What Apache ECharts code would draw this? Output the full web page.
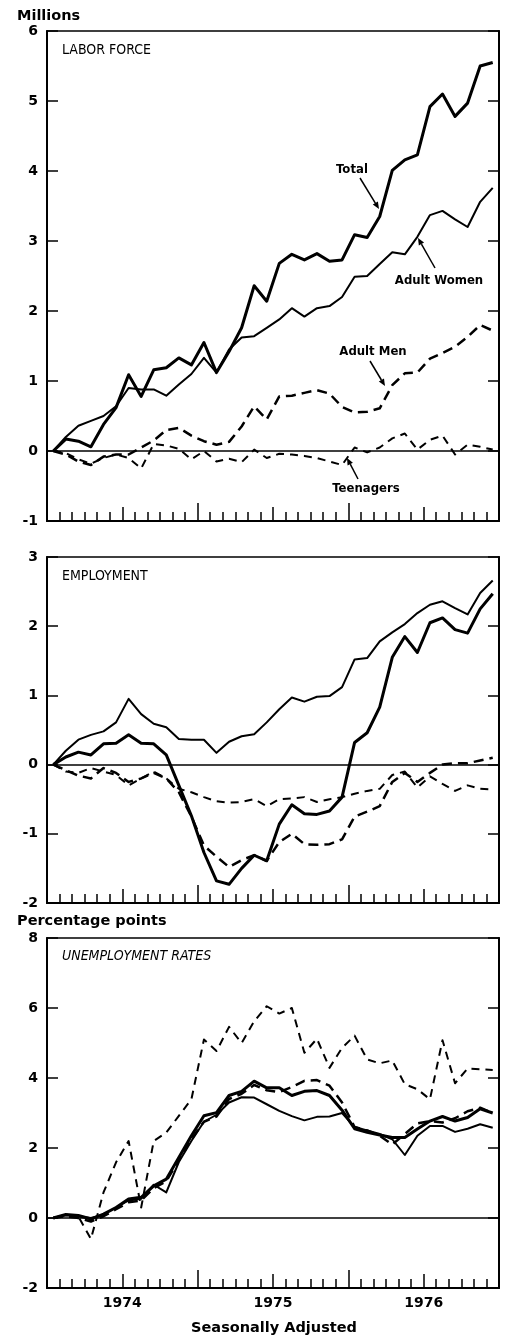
<!DOCTYPE html>
<html>
<head>
<meta charset="utf-8">
<script src="https://cdn.jsdelivr.net/npm/echarts@6/dist/echarts.min.js"></script>
<style>
html,body{margin:0;padding:0;background:#fff}
#main{width:516px;height:1338px}
</style>
</head>
<body>
<div id="main"></div>
<script>
// months on the x axis (Jan 1974 - Dec 1976)
var months = ['1974-01','1974-02','1974-03','1974-04','1974-05','1974-06','1974-07','1974-08','1974-09','1974-10','1974-11','1974-12',
              '1975-01','1975-02','1975-03','1975-04','1975-05','1975-06','1975-07','1975-08','1975-09','1975-10','1975-11','1975-12',
              '1976-01','1976-02','1976-03','1976-04','1976-05','1976-06','1976-07','1976-08','1976-09','1976-10','1976-11','1976-12'];
var years = ['1974','1975','1976'];

// labor force, change in millions
var lfTotal = [0,0.17,0.14,0.06,0.38,0.62,1.09,0.78,1.16,1.19,1.33,1.23,1.55,1.12,1.42,1.76,2.36,2.14,2.68,2.81,2.73,2.82,2.71,2.73,3.09,3.05,3.35,4.01,4.16,4.23,4.92,5.10,4.78,4.97,5.50,5.55];
var lfWomen = [0,0.2,0.36,0.43,0.5,0.64,0.9,0.88,0.88,0.79,0.95,1.1,1.33,1.12,1.45,1.62,1.64,1.76,1.88,2.04,1.92,2.04,2.07,2.2,2.49,2.5,2.67,2.84,2.81,3.06,3.37,3.43,3.31,3.2,3.56,3.76];
var lfMen   = [0,-0.05,-0.15,-0.2,-0.08,-0.05,-0.05,0.05,0.15,0.3,0.33,0.22,0.14,0.09,0.13,0.35,0.64,0.45,0.78,0.79,0.83,0.87,0.82,0.63,0.55,0.56,0.61,0.94,1.11,1.12,1.32,1.40,1.49,1.63,1.80,1.72];
var lfTeens = [0,-0.03,-0.12,-0.18,-0.1,-0.05,-0.1,-0.25,0.1,0.08,0.03,-0.12,0,-0.15,-0.11,-0.16,0.02,-0.1,-0.04,-0.05,-0.07,-0.1,-0.15,-0.2,0.05,-0.02,0.05,0.18,0.25,0.02,0.16,0.22,-0.05,0.09,0.06,0.02];

// employment, change in millions
var empTotal = [0,0.11,0.18,0.14,0.3,0.31,0.43,0.31,0.3,0.14,-0.3,-0.74,-1.27,-1.68,-1.73,-1.5,-1.31,-1.39,-0.86,-0.58,-0.71,-0.72,-0.67,-0.47,0.32,0.46,0.83,1.55,1.85,1.62,2.05,2.12,1.95,1.90,2.25,2.47];
var empWomen = [0,0.2,0.36,0.43,0.48,0.61,0.95,0.73,0.59,0.54,0.37,0.36,0.36,0.17,0.33,0.41,0.44,0.61,0.8,0.97,0.91,0.98,0.99,1.12,1.52,1.54,1.78,1.91,2.03,2.19,2.31,2.36,2.26,2.17,2.48,2.66];
var empMen   = [0,-0.08,-0.16,-0.2,-0.05,-0.12,-0.25,-0.2,-0.12,-0.2,-0.4,-0.75,-1.17,-1.33,-1.48,-1.38,-1.31,-1.39,-1.12,-1.0,-1.15,-1.16,-1.15,-1.08,-0.75,-0.68,-0.6,-0.25,-0.12,-0.25,-0.12,0.0,0.02,0.02,0.06,0.1];
var empTeens = [0,-0.1,-0.12,-0.05,-0.1,-0.15,-0.3,-0.2,-0.1,-0.2,-0.35,-0.4,-0.47,-0.53,-0.55,-0.54,-0.5,-0.6,-0.5,-0.49,-0.47,-0.54,-0.5,-0.47,-0.42,-0.38,-0.35,-0.15,-0.1,-0.33,-0.17,-0.28,-0.38,-0.3,-0.35,-0.36];

// unemployment rates, change in percentage points
var urTotal = [0,0.1,0.07,-0.03,0.11,0.3,0.54,0.59,0.92,1.11,1.73,2.35,2.92,3.01,3.5,3.62,3.91,3.72,3.72,3.5,3.62,3.64,3.5,3.08,2.55,2.45,2.37,2.3,2.3,2.54,2.77,2.9,2.77,2.87,3.12,3.0];
var urWomen = [0,0.08,0.05,0,0.1,0.3,0.5,0.55,0.95,0.73,1.6,2.2,2.75,2.95,3.3,3.45,3.44,3.25,3.06,2.91,2.79,2.89,2.9,3.0,2.6,2.5,2.4,2.25,1.8,2.35,2.63,2.63,2.46,2.55,2.68,2.58];
var urMen   = [0,0.05,0,-0.1,0.05,0.25,0.45,0.5,0.85,1.05,1.65,2.25,2.75,2.9,3.4,3.55,3.8,3.65,3.6,3.74,3.92,3.94,3.78,3.3,2.6,2.5,2.35,2.1,2.4,2.7,2.77,2.73,2.85,3.05,3.15,3.0];
var urTeens = [0,0.1,0.04,-0.6,0.73,1.59,2.2,0.3,2.2,2.44,2.92,3.39,5.1,4.77,5.46,5.0,5.62,6.05,5.84,6.0,4.72,5.12,4.29,4.86,5.21,4.53,4.42,4.5,3.82,3.68,3.39,5.08,3.85,4.27,4.25,4.23];

var numFont = '"DejaVu Sans", sans-serif';
var condFont = '"DejaVu Sans Condensed", "Liberation Sans Narrow", "DejaVu Sans", sans-serif';

// grids: [top, height, ymin, ymax, yinterval]
var panels = [
  [31, 490, -1, 6, 1],
  [557, 346, -2, 3, 1],
  [938, 350, -2, 8, 2]
];

function pts(arr) {
  return months.map(function (m, i) { return [i + 0.5, arr[i]]; });
}

var grids = [], xAxes = [], yAxes = [];
panels.forEach(function (p, gi) {
  grids.push({left: 47, width: 452, top: p[0], height: p[1], show: true, borderColor: '#000', borderWidth: 1.5, outerBoundsMode: 'none'});
  // minor / mid-year / year ticks
  [[1, 9], [6, 14], [12, 18]].forEach(function (t, k) {
    xAxes.push({
      type: 'value', gridIndex: gi, min: 0, max: 36, interval: t[0], position: 'bottom',
      axisLine: {show: k == 0, onZero: false, lineStyle: {color: '#000', width: 2}},
      axisTick: {show: true, inside: true, length: t[1], lineStyle: {color: '#000', width: 1.5}},
      splitLine: {show: false},
      axisLabel: {
        show: gi == 2 && k == 1, margin: 8, color: '#000', fontSize: 14, fontWeight: 'bold', fontFamily: numFont,
        formatter: function (v) { return v % 12 == 6 ? years[(v - 6) / 12] : ''; }
      }
    });
  });
  yAxes.push({
    type: 'value', gridIndex: gi, min: p[2], max: p[3], interval: p[4], position: 'left',
    axisLine: {show: true, onZero: false, lineStyle: {color: '#000', width: 2}},
    axisTick: {show: true, inside: true, length: 11, lineStyle: {color: '#000', width: 1.5}},
    splitLine: {show: false},
    axisLabel: {color: '#000', fontSize: 14, fontWeight: 'bold', fontFamily: numFont, margin: 9}
  });
  yAxes.push({
    type: 'value', gridIndex: gi, min: p[2], max: p[3], interval: p[4], position: 'right',
    axisLine: {show: true, onZero: false, lineStyle: {color: '#000', width: 2}},
    axisTick: {show: true, inside: true, length: 11, lineStyle: {color: '#000', width: 1.5}},
    splitLine: {show: false},
    axisLabel: {show: false}
  });
});

var styles = {
  total: {width: 3, type: 'solid'},
  women: {width: 2, type: 'solid'},
  men: {width: 2.5, type: [10, 6]},
  teens: {width: 2, type: [8, 6]}
};

function line(gi, arr, st, zero) {
  var s = {
    type: 'line', xAxisIndex: gi * 3, yAxisIndex: gi * 2, data: pts(arr),
    showSymbol: false, silent: true, z: 3,
    lineStyle: {color: '#000', width: st.width, type: st.type, cap: 'butt', join: 'round'}
  };
  if (zero) {
    s.markLine = {silent: true, symbol: 'none', label: {show: false},
      lineStyle: {color: '#000', width: 1.5, type: 'solid'}, data: [{yAxis: 0}]};
  }
  return s;
}

var series = [
  line(0, lfTotal, styles.total, true), line(0, lfWomen, styles.women), line(0, lfMen, styles.men), line(0, lfTeens, styles.teens),
  line(1, empTotal, styles.total, true), line(1, empWomen, styles.women), line(1, empMen, styles.men), line(1, empTeens, styles.teens),
  line(2, urTotal, styles.total, true), line(2, urWomen, styles.women), line(2, urMen, styles.men), line(2, urTeens, styles.teens)
];

function txt(x, y, s, font, align) {
  return {type: 'text', x: x, y: y, z: 10, style: {text: s, font: font, fill: '#000', align: align || 'left', verticalAlign: 'middle'}};
}

// annotation arrow with a small filled head
function arrow(x1, y1, x2, y2) {
  var a = Math.atan2(y2 - y1, x2 - x1), L = 7, W = 3;
  var bx = x2 - L * Math.cos(a), by = y2 - L * Math.sin(a);
  return [
    {type: 'line', z: 10, shape: {x1: x1, y1: y1, x2: bx, y2: by}, style: {stroke: '#000', lineWidth: 1.5}},
    {type: 'polygon', z: 10, shape: {points: [[x2, y2], [bx + W * Math.sin(a), by - W * Math.cos(a)], [bx - W * Math.sin(a), by + W * Math.cos(a)]]}, style: {fill: '#000'}}
  ];
}

var graphics = [
  txt(17, 16, 'Millions', 'bold 14.5px ' + numFont),
  txt(62, 50, 'LABOR FORCE', '14px ' + condFont),
  txt(62, 576, 'EMPLOYMENT', '14px ' + condFont),
  txt(17, 921, 'Percentage points', 'bold 14.5px ' + numFont),
  txt(62, 956, 'UNEMPLOYMENT RATES', 'italic 14px ' + condFont),
  txt(352, 170, 'Total', 'bold 13px ' + condFont, 'center'),
  txt(439, 281, 'Adult Women', 'bold 13px ' + condFont, 'center'),
  txt(373, 352, 'Adult Men', 'bold 13px ' + condFont, 'center'),
  txt(366, 489, 'Teenagers', 'bold 13px ' + condFont, 'center'),
  txt(274, 1328, 'Seasonally Adjusted', 'bold 14.5px ' + numFont, 'center')
].concat(arrow(360, 178, 379, 209), arrow(435, 268, 418, 238), arrow(370, 361, 385, 386), arrow(358, 479, 347, 458));

var myChart = echarts.init(document.getElementById('main'), null, {renderer: 'canvas'});
myChart.setOption({
  animation: false,
  backgroundColor: '#fff',
  grid: grids,
  xAxis: xAxes,
  yAxis: yAxes,
  series: series,
  graphic: graphics
});
</script>
</body>
</html>
